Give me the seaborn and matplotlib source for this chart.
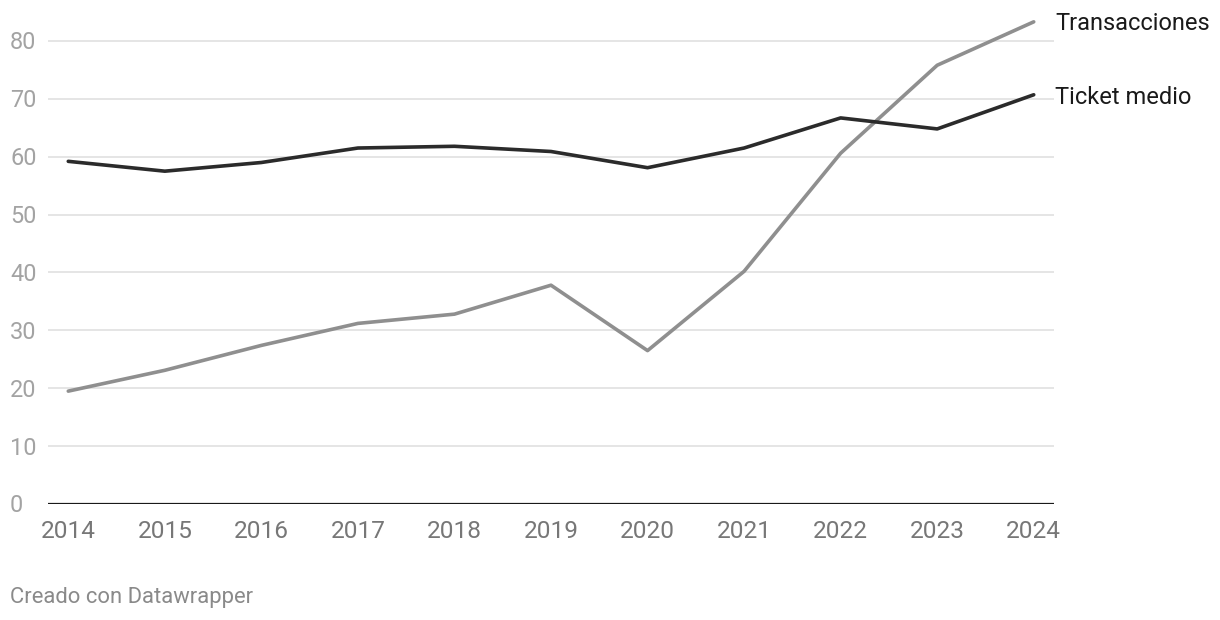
import matplotlib
matplotlib.use("Agg")
import matplotlib.pyplot as plt
import seaborn as sns
import pandas as pd

years = [2014, 2015, 2016, 2017, 2018, 2019, 2020, 2021, 2022, 2023, 2024]
transacciones = [19.5, 23.1, 27.4, 31.2, 32.8, 37.8, 26.5, 40.2, 60.6, 75.8, 83.3]
ticket_medio = [59.2, 57.5, 59.0, 61.5, 61.8, 60.9, 58.1, 61.5, 66.7, 64.8, 70.7]
y_ticks = [0, 10, 20, 30, 40, 50, 60, 70, 80]

sns.set_theme(style="white")
plt.rcParams["font.family"] = ["Roboto", "DejaVu Sans"]

df = pd.DataFrame({"year": years * 2,
                   "value": transacciones + ticket_medio,
                   "serie": ["Transacciones"] * len(years) + ["Ticket medio"] * len(years)})
colors = {"Transacciones": "#8f8f8f", "Ticket medio": "#2b2b2b"}

fig = plt.figure(figsize=(12.2, 6.2), dpi=100)
ax = fig.add_axes([48 / 1220, 116 / 620, (1054 - 48) / 1220, 492 / 620])

for t in y_ticks[1:]:
    ax.axhline(t, color="#e3e3e3", lw=1.3, zorder=0)
ax.axhline(0, color="#1a1a1a", lw=1.6, zorder=3)

sns.lineplot(data=df, x="year", y="value", hue="serie", palette=colors,
             linewidth=2.6, legend=False, ax=ax, zorder=4)

ax.set_xlim(2013.79, 2024.21)
ax.set_ylim(0, 85)
for s in ax.spines.values():
    s.set_visible(False)
ax.set_xlabel("")
ax.set_ylabel("")
ax.set_xticks(years)
ax.set_xticklabels([str(y) for y in years], color="#777777", fontsize=17.6)
ax.tick_params(axis="x", length=0, pad=11.5)
ax.set_yticks([])

# y labels sit left of the plot, centred on their gridline
for t in y_ticks:
    fig.text(10 / 1220, 1 - (506 - t * 5.79) / 620, str(t), color="#a3a3a3",
             fontsize=16.9, ha="left", va="center")

ax.text(2024.21 + 0.01, transacciones[-1] - 0.35, "Transacciones", color="#1a1a1a",
        fontsize=17, ha="left", va="center", clip_on=False)
ax.text(2024.21 + 0.01, ticket_medio[-1] - 0.5, "Ticket medio", color="#1a1a1a",
        fontsize=17, ha="left", va="center", clip_on=False)

fig.text(10 / 1220, 1 - 597 / 620, "Creado con Datawrapper", color="#8a8a8a",
         fontsize=15.8, ha="left", va="center")

fig.savefig("out.png", dpi=100)
